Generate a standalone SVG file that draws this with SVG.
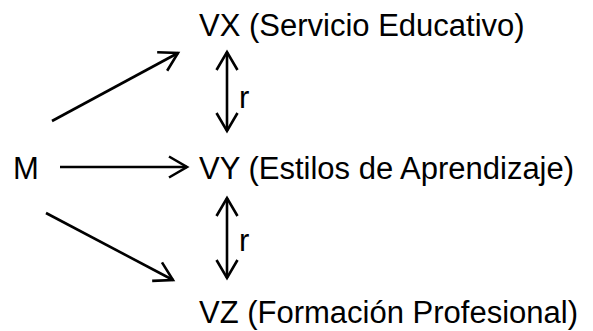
<svg xmlns="http://www.w3.org/2000/svg" width="593" height="331" viewBox="0 0 593 331">
  <style>
    text { font-family: "Liberation Sans", Arial, sans-serif; font-size: 31px; fill: #000; }
    .conn { stroke: #000; stroke-width: 2.6; fill: none; marker-end: url(#head); }
    .dbl { marker-start: url(#head); }
  </style>
  <defs>
    <marker id="head" markerUnits="userSpaceOnUse" viewBox="-22 -14 26 28" markerWidth="26" markerHeight="28" refX="0" refY="0" orient="auto-start-reverse" overflow="visible">
      <path d="M-18,-10.5 L0,0 L-18,10.5" fill="none" stroke="#000" stroke-width="2.6" stroke-linejoin="miter"/>
    </marker>
  </defs>
  <rect width="593" height="331" fill="#fff"/>
  <g id="M"><text x="13" y="179">M</text></g>
  <g id="VX"><text x="199" y="36">VX (Servicio Educativo)</text></g>
  <g id="VY"><text x="199" y="179">VY (Estilos de Aprendizaje)</text></g>
  <g id="VZ"><text x="199" y="323">VZ (Formación Profesional)</text></g>
  <g id="connectors">
    <line class="conn" x1="52" y1="121" x2="178" y2="53"/>
    <line class="conn" x1="60" y1="167" x2="187" y2="167"/>
    <line class="conn" x1="46" y1="213" x2="173" y2="280"/>
    <line class="conn dbl" x1="227" y1="52" x2="227" y2="131"/>
    <line class="conn dbl" x1="227" y1="198" x2="227" y2="278"/>
    <text x="239" y="108">r</text>
    <text x="239" y="251">r</text>
  </g>
</svg>
